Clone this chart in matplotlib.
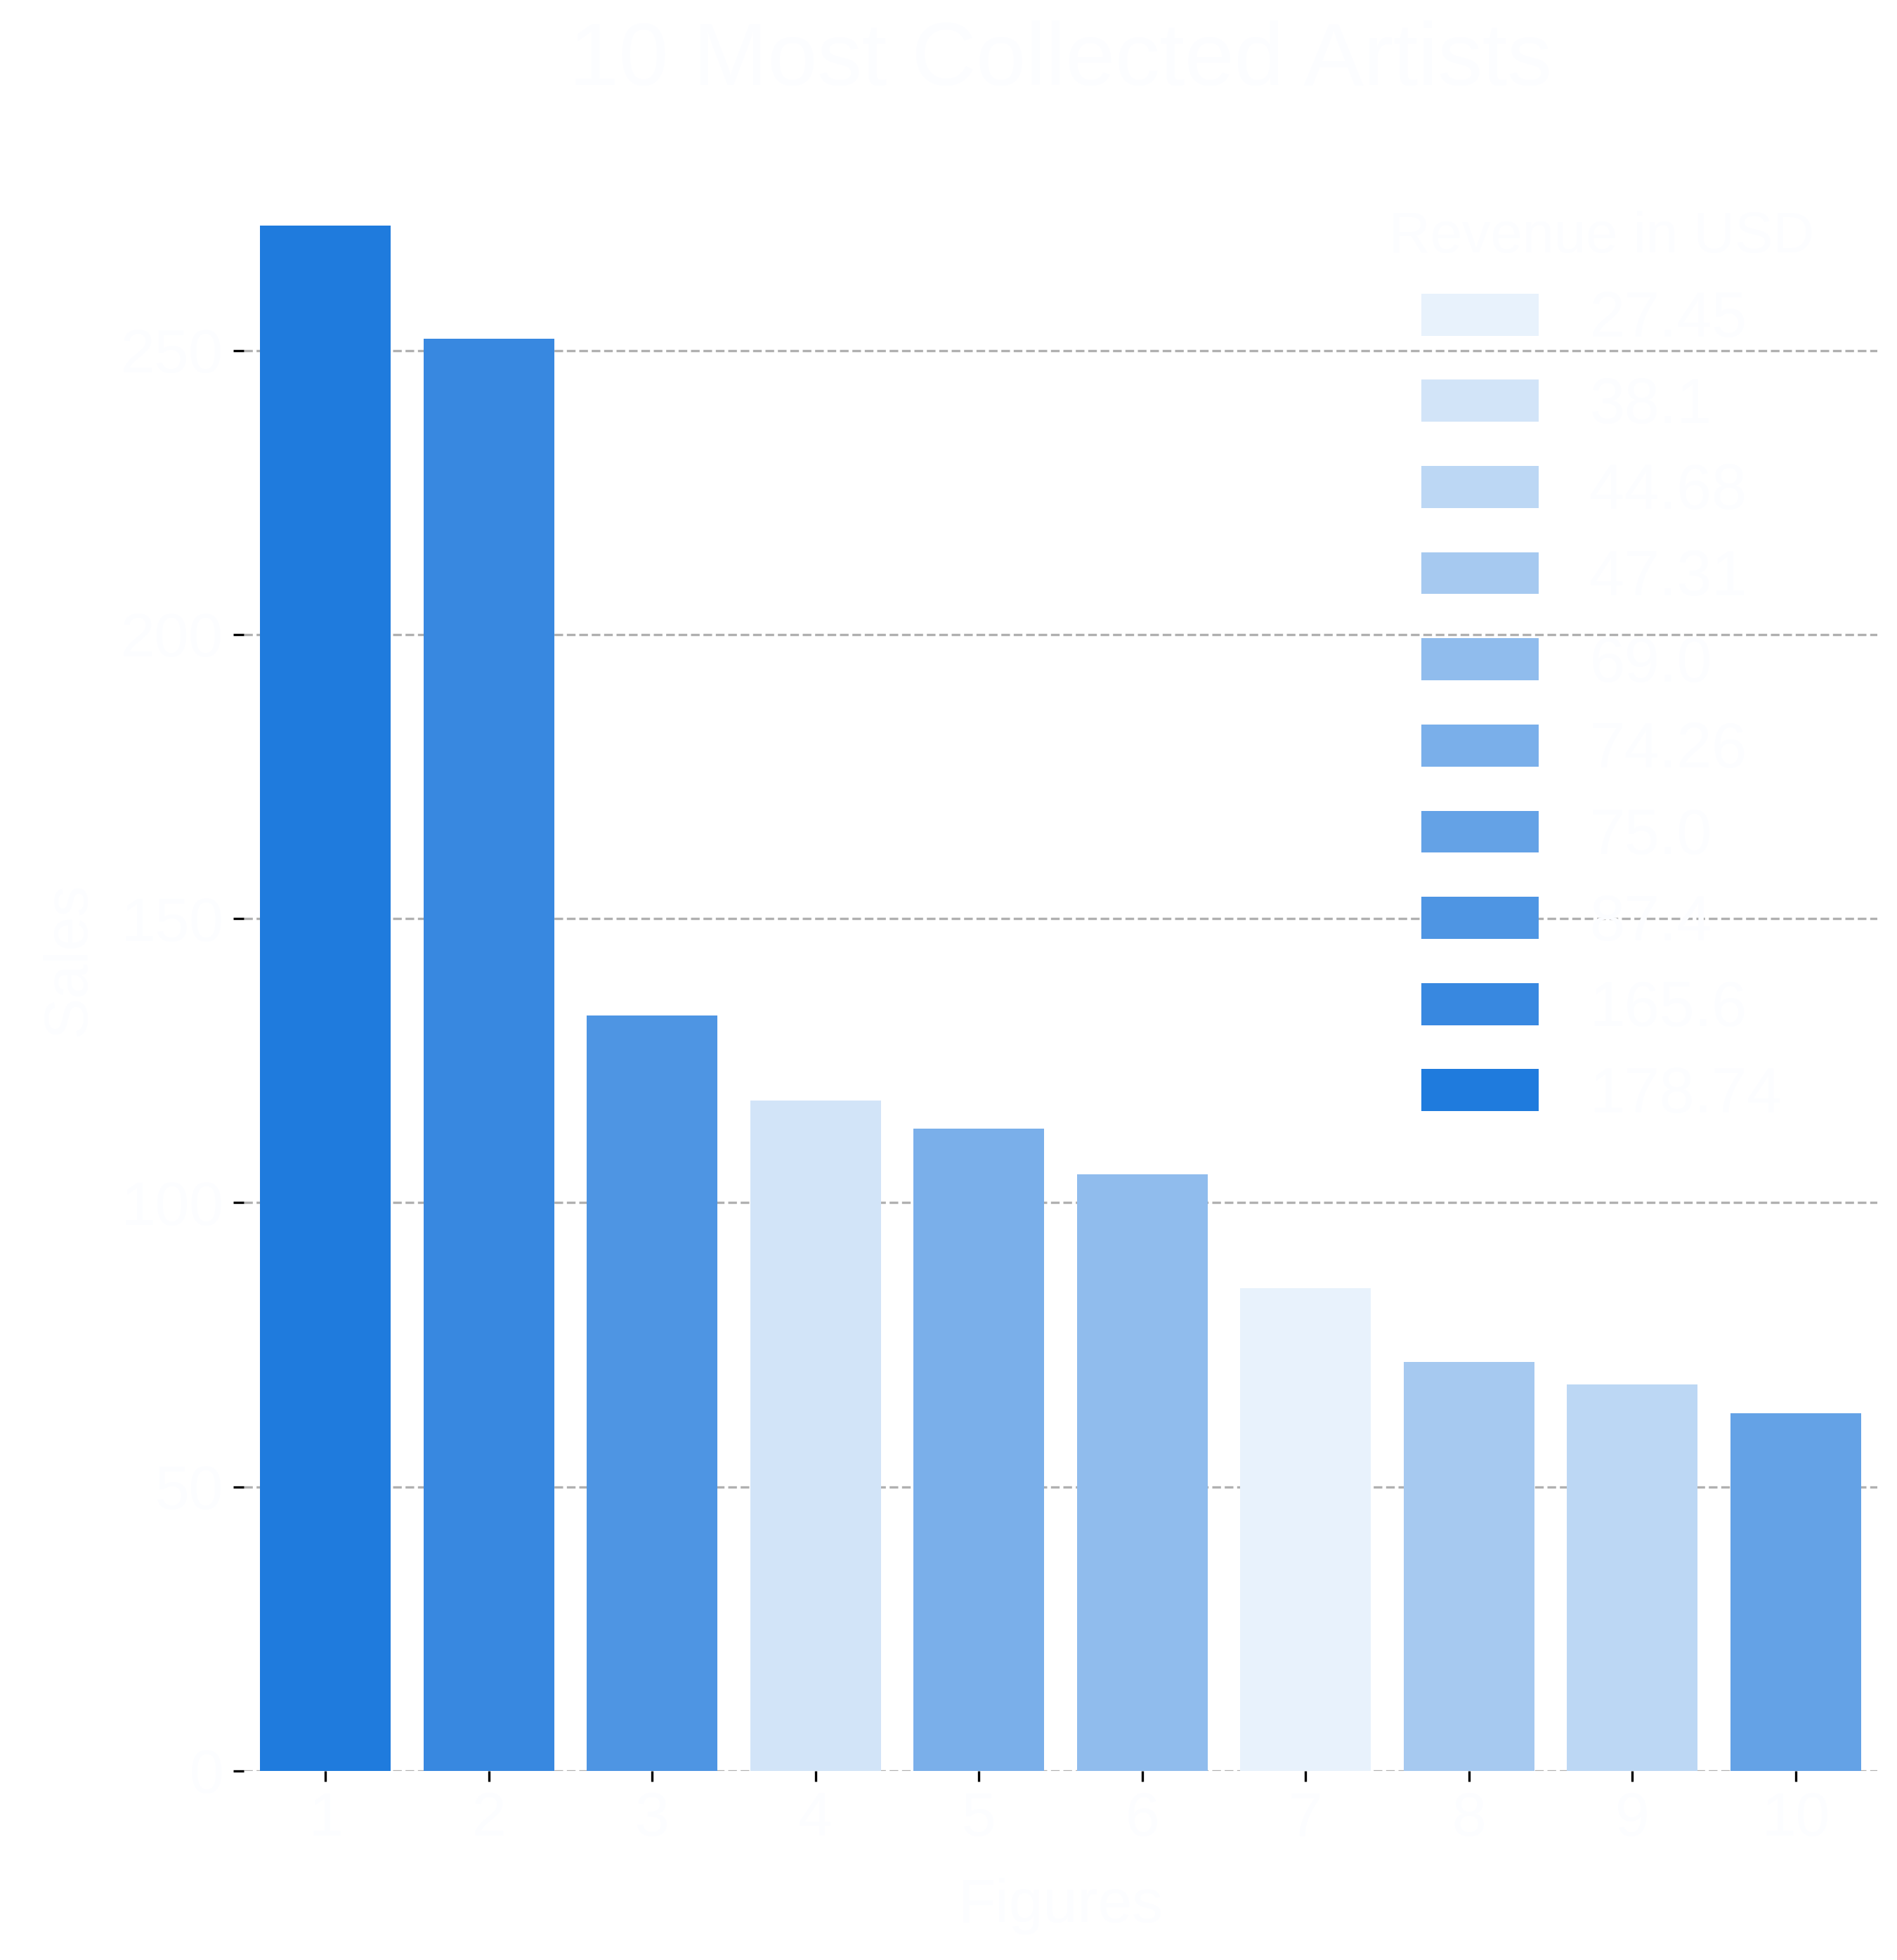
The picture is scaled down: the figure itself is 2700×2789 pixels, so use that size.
import matplotlib
matplotlib.use("Agg")
import matplotlib.pyplot as plt
from matplotlib.patches import Patch

plt.rcParams['font.family'] = ['Liberation Sans', 'DejaVu Sans']

# ---- data ----
ranks = ["1", "2", "3", "4", "5", "6", "7", "8", "9", "10"]
counts = [272, 252, 133, 118, 113, 105, 85, 72, 68, 63]
revenue = [178.74, 165.6, 87.4, 38.1, 74.26, 69.0, 27.45, 47.31, 44.68, 75.0]
title = "10 Most Collected Artists"
xlabel = "Figures"
ylabel = "Sales"
legend_title = "Revenue in USD"
yticks = [0, 50, 100, 150, 200, 250]

# palette (lightest -> darkest), assigned by revenue order
palette = ["#E8F2FC", "#D2E4F8", "#BCD7F4", "#A6C9F0", "#90BCED",
           "#7AAFEA", "#64A2E6", "#4E95E3", "#3888E0", "#1F7BDD"]

text_color = "#fcfdff"

rev_sorted = sorted(revenue)
color_of = {v: palette[i] for i, v in enumerate(rev_sorted)}
bar_colors = [color_of[v] for v in revenue]

fig = plt.figure(figsize=(9, 2789 / 300), dpi=300)
ax = fig.add_axes([0.1285, 0.0965, 0.8611, 0.8279])

x = list(range(len(ranks)))
ax.bar(x, counts, width=0.8, color=bar_colors, zorder=2)
ax.set_xlim(-0.5, len(ranks) - 0.5)
ax.set_xticks(x)
ax.set_xticklabels(ranks)
ax.set_yticks(yticks)

ax.set_axisbelow(True)
ax.yaxis.grid(True, linestyle="--", linewidth=0.8, color="#b0b0b0")
for s in ax.spines.values():
    s.set_visible(False)

ax.tick_params(axis="both", colors="black", labelcolor=text_color,
               labelsize=21, length=3.5, width=0.8)

ax.set_title(title, fontsize=30.5, color=text_color, pad=21.5)
ax.set_xlabel(xlabel, fontsize=21, color=text_color, labelpad=10)
ax.set_ylabel(ylabel, fontsize=21, color=text_color, labelpad=8)

handles = [Patch(facecolor=color_of[v], edgecolor="none") for v in rev_sorted]
labels = [str(v) for v in rev_sorted]
leg = ax.legend(handles, labels, title=legend_title, loc="upper right",
                bbox_to_anchor=(0.996, 0.9965),
                fontsize=21.5, title_fontsize=19.5, frameon=False,
                labelcolor=text_color, labelspacing=0.42,
                handlelength=1.86, handleheight=0.65, handletextpad=0.81)
leg.get_title().set_color(text_color)

fig.savefig("out.png", dpi=300)
